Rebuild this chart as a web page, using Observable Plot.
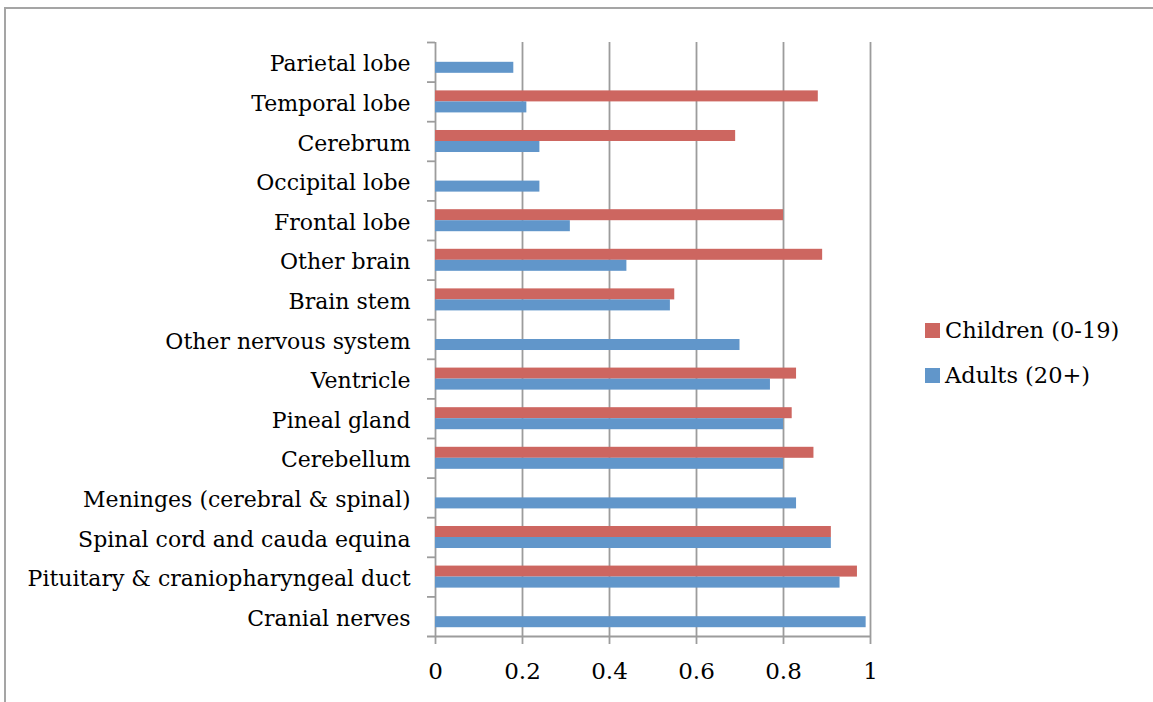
<!DOCTYPE html>
<html>
<head>
<meta charset="utf-8">
<script src="https://cdn.jsdelivr.net/npm/d3@7"></script>
<script src="https://cdn.jsdelivr.net/npm/@observablehq/plot@0.6"></script>
<style>
  html, body { margin: 0; padding: 0; background: #fff; overflow: hidden; }
  #wrap { position: relative; width: 1153px; height: 702px; }
  #border { position: absolute; left: 4px; top: 7px; width: 1300px; height: 900px;
            border: 2px solid #a5a5a5; box-sizing: border-box; }
  #chart { position: absolute; left: 0; top: 0; }
  #legend { position: absolute; left: 925px; top: 316px; font-family: "DejaVu Serif", serif;
            font-size: 22.5px; color: #000; }
  .item { display: flex; align-items: center; height: 28px; margin-bottom: 17px; }
  .swatch { width: 15px; height: 15px; margin-right: 5px; }
</style>
</head>
<body>
<div id="wrap">
  <div id="border"></div>
  <div id="chart"></div>
  <div id="legend"></div>
</div>
<script>
// Tumour sites, listed top to bottom
const categories = [
  "Parietal lobe", "Temporal lobe", "Cerebrum", "Occipital lobe", "Frontal lobe",
  "Other brain", "Brain stem", "Other nervous system", "Ventricle", "Pineal gland",
  "Cerebellum", "Meninges (cerebral & spinal)", "Spinal cord and cauda equina",
  "Pituitary & craniopharyngeal duct", "Cranial nerves"
];
// null = no value reported for that site
const children = [null, 0.88, 0.69, null, 0.80, 0.89, 0.55, null, 0.83, 0.82, 0.87, null, 0.91, 0.97, null];
const adults   = [0.18, 0.21, 0.24, 0.24, 0.31, 0.44, 0.54, 0.70, 0.77, 0.80, 0.80, 0.83, 0.91, 0.93, 0.99];
const xTicks = [0, 0.2, 0.4, 0.6, 0.8, 1];
const seriesNames = ["Children (0-19)", "Adults (20+)"];
const seriesColors = ["#cd6660", "#6196ca"];

const childRows = categories.map((c, i) => ({category: c, value: children[i]})).filter(d => d.value != null);
const adultRows = categories.map((c, i) => ({category: c, value: adults[i]}));

const W = 1153, H = 702;
const mTop = 42, mBottom = 66, mLeft = 435, mRight = 283;
const step = (H - mTop - mBottom) / categories.length;
const padInner = 0.444;
const half = step * (1 - padInner) / 2;   // height of a single bar
const grid = "#9c9c9c";

const chart = Plot.plot({
  width: W, height: H,
  marginTop: mTop, marginBottom: mBottom, marginLeft: mLeft, marginRight: mRight,
  style: {fontFamily: "DejaVu Serif, serif", fontSize: "22px", color: "#000", background: "transparent"},
  x: {domain: [0, 1]},
  y: {domain: categories, paddingInner: padInner, paddingOuter: padInner / 2, round: false},
  marks: [
    Plot.ruleX(xTicks, {stroke: grid, strokeWidth: 1.8}),
    // category boundary ticks on the left of the value axis
    Plot.ruleY(categories, {x1: 0, x2: 0, insetLeft: -8, dy: -step / 2, stroke: grid, strokeWidth: 1.8}),
    Plot.ruleY(categories.slice(-1), {x1: 0, x2: 1, insetLeft: -8, dy: step / 2, stroke: grid, strokeWidth: 1.8}),
    Plot.barX(childRows, {y: "category", x: "value", fill: seriesColors[0], insetBottom: half}),
    Plot.barX(adultRows, {y: "category", x: "value", fill: seriesColors[1], insetTop: half}),
    Plot.axisX({ticks: xTicks, tickSize: 8, tickPadding: 18, stroke: grid, strokeWidth: 1.8,
                fontSize: 23, tickFormat: d => String(d), label: null}),
    Plot.axisY({tickSize: 0, tickPadding: 25, dy: 2, label: null})
  ]
});
document.getElementById("chart").appendChild(chart);

const legend = document.getElementById("legend");
seriesNames.forEach((name, i) => {
  const item = document.createElement("div");
  item.className = "item";
  const sw = document.createElement("span");
  sw.className = "swatch";
  sw.style.background = seriesColors[i];
  const label = document.createElement("span");
  label.textContent = name;
  item.append(sw, label);
  legend.appendChild(item);
});
</script>
</body>
</html>
